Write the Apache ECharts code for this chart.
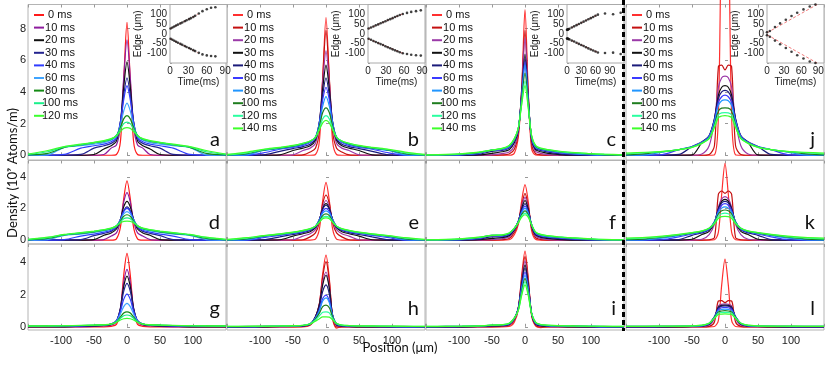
<!DOCTYPE html>
<html>
<head>
<meta charset="utf-8">
<script src="https://cdn.jsdelivr.net/npm/echarts@6/dist/echarts.min.js"></script>
<style>
  html, body { margin: 0; padding: 0; background: #fff; }
  #chart { width: 830px; height: 370px; }
</style>
</head>
<body>
<div id="chart"></div>
<script>
// positions (µm) shared by every density profile
const positions = [-150, -120, -95, -70, -50, -35, -24, -16, -10, -5, 0, 5, 10, 16, 24, 35, 50, 70, 95, 120, 150];

const timesA = ['0 ms', '10 ms', '20 ms', '30 ms', '40 ms', '60 ms', '80 ms', '100 ms', '120 ms'];
const timesB = ['0 ms', '10 ms', '20 ms', '30 ms', '40 ms', '60 ms', '80 ms', '100 ms', '120 ms', '140 ms'];
const colorsA = ['#ff1a1a', '#8e1c9e', '#111111', '#23238f', '#2f3cff', '#3fa4ff', '#138a13', '#19f08a', '#3cff2e'];
const colorsB = ['#ff3030', '#c41010', '#9b3aa8', '#111111', '#1b1b7a', '#3a3aff', '#2196ff', '#1e7d1e', '#2affa0', '#3dff2a'];

// density (1e9 atoms/m), one row per time
const densA = [
  [0,0,0,0,0,0,0,0.05,0.85,4.7,8.4,4.7,0.85,0.05,0,0,0,0,0,0,0],
  [0,0,0,0,0,0.05,0.45,0.65,1.8,4.9,7.3,4.9,1.8,0.65,0.45,0.05,0,0,0,0,0],
  [0,0,0,0,0.05,0.4,0.6,0.9,2.1,4.3,5.9,4.3,2.1,0.9,0.6,0.4,0.05,0,0,0,0],
  [0,0,0,0.05,0.45,0.6,0.75,1.05,2.1,3.8,4.9,3.8,2.1,1.05,0.75,0.6,0.45,0.05,0,0,0],
  [0,0,0.05,0.45,0.6,0.7,0.85,1.1,2.1,3.5,4.4,3.5,2.1,1.1,0.85,0.7,0.6,0.45,0.05,0,0],
  [0,0.03,0.5,0.6,0.7,0.8,0.95,1.2,1.9,2.8,3.3,2.8,1.9,1.2,0.95,0.8,0.7,0.6,0.5,0.03,0],
  [0.02,0.12,0.5,0.65,0.78,0.88,1.0,1.25,1.75,2.3,2.5,2.3,1.75,1.25,1.0,0.88,0.78,0.65,0.5,0.12,0.02],
  [0.05,0.22,0.52,0.67,0.8,0.9,1.02,1.25,1.65,2.0,2.1,2.0,1.65,1.25,1.02,0.9,0.8,0.67,0.52,0.22,0.05],
  [0.08,0.3,0.55,0.7,0.82,0.92,1.05,1.22,1.5,1.7,1.75,1.7,1.5,1.22,1.05,0.92,0.82,0.7,0.55,0.3,0.08]
];
const densB = [
  [0,0,0,0,0,0,0,0.05,0.9,4.8,8.7,4.8,0.9,0.05,0,0,0,0,0,0,0],
  [0,0,0,0,0,0.02,0.2,0.45,1.5,4.9,7.9,4.9,1.5,0.45,0.2,0.02,0,0,0,0,0],
  [0,0,0,0,0.03,0.3,0.45,0.75,2.0,4.6,6.6,4.6,2.0,0.75,0.45,0.3,0.03,0,0,0,0],
  [0,0,0,0.03,0.3,0.45,0.6,0.95,2.1,4.2,5.7,4.2,2.1,0.95,0.6,0.45,0.3,0.03,0,0,0],
  [0,0,0.02,0.25,0.42,0.55,0.7,1.05,2.1,3.8,4.9,3.8,2.1,1.05,0.7,0.55,0.42,0.25,0.02,0,0],
  [0,0,0.15,0.38,0.5,0.62,0.8,1.1,2.1,3.5,4.3,3.5,2.1,1.1,0.8,0.62,0.5,0.38,0.15,0,0],
  [0,0.03,0.3,0.42,0.55,0.68,0.85,1.15,2.0,3.1,3.7,3.1,2.0,1.15,0.85,0.68,0.55,0.42,0.3,0.03,0],
  [0.01,0.1,0.33,0.45,0.58,0.72,0.88,1.15,1.85,2.7,3.0,2.7,1.85,1.15,0.88,0.72,0.58,0.45,0.33,0.1,0.01],
  [0.03,0.15,0.35,0.48,0.6,0.75,0.9,1.15,1.7,2.3,2.5,2.3,1.7,1.15,0.9,0.75,0.6,0.48,0.35,0.15,0.03],
  [0.05,0.2,0.37,0.5,0.62,0.76,0.9,1.12,1.6,2.05,2.2,2.05,1.6,1.12,0.9,0.76,0.62,0.5,0.37,0.2,0.05]
];
const densC = [
  [0,0,0,0,0,0,0,0.15,1.2,4.2,9.2,3.9,0.4,0.02,0,0,0,0,0,0,0],
  [0,0,0,0,0,0.02,0.08,0.4,1.4,4.2,7.9,3.8,0.7,0.1,0.03,0,0,0,0,0,0],
  [0,0,0,0,0.02,0.1,0.2,0.6,1.5,4.1,7.4,3.7,0.9,0.25,0.12,0.04,0,0,0,0,0],
  [0,0,0,0.02,0.12,0.22,0.35,0.8,1.6,3.9,6.4,3.5,1.0,0.35,0.22,0.12,0.05,0,0,0,0],
  [0,0,0.01,0.06,0.25,0.3,0.45,0.9,1.65,3.8,6.1,3.4,1.05,0.42,0.3,0.2,0.1,0.03,0,0,0],
  [0,0.01,0.03,0.12,0.32,0.35,0.5,0.95,1.7,3.7,5.9,3.35,1.1,0.48,0.35,0.26,0.16,0.08,0.02,0,0],
  [0.01,0.02,0.05,0.15,0.33,0.38,0.55,1.0,1.72,3.65,5.7,3.3,1.15,0.52,0.38,0.3,0.2,0.12,0.05,0.01,0],
  [0.01,0.03,0.07,0.17,0.33,0.4,0.58,1.02,1.75,3.5,5.2,3.2,1.2,0.56,0.4,0.32,0.23,0.15,0.08,0.03,0.01],
  [0.02,0.04,0.09,0.19,0.33,0.42,0.6,1.05,1.75,3.3,4.7,3.05,1.22,0.6,0.43,0.34,0.25,0.17,0.1,0.05,0.02],
  [0.03,0.05,0.1,0.2,0.33,0.43,0.62,1.07,1.75,3.2,4.4,2.95,1.25,0.62,0.45,0.36,0.27,0.19,0.12,0.07,0.03]
];
const densJ = [
  [0,0,0,0,0,0,0,0.02,2.5,16,22,16,2.5,0.02,0,0,0,0,0,0,0],
  [0,0,0,0,0,0,0.05,0.6,5.6,5.7,5.4,5.7,5.6,0.6,0.05,0,0,0,0,0,0],
  [0,0,0,0,0,0.08,0.6,2.2,4.3,4.9,5.0,4.9,4.3,2.2,0.6,0.08,0,0,0,0,0],
  [0,0,0,0,0.02,0.8,1.2,2.3,3.8,4.3,4.4,4.3,3.8,2.3,1.2,0.8,0.02,0,0,0,0],
  [0,0,0,0.05,0.55,0.85,1.25,2.3,3.6,4.0,4.1,4.0,3.6,2.3,1.25,0.85,0.55,0.05,0,0,0],
  [0,0,0.04,0.35,0.55,0.82,1.2,2.2,3.35,3.7,3.8,3.7,3.35,2.2,1.2,0.82,0.55,0.35,0.04,0,0],
  [0,0.03,0.2,0.36,0.53,0.8,1.15,2.1,3.15,3.45,3.5,3.45,3.15,2.1,1.15,0.8,0.53,0.36,0.2,0.03,0],
  [0.02,0.1,0.22,0.36,0.52,0.78,1.1,1.95,2.8,2.98,3.0,2.98,2.8,1.95,1.1,0.78,0.52,0.36,0.22,0.1,0.02],
  [0.08,0.17,0.23,0.36,0.5,0.76,1.08,1.85,2.55,2.68,2.7,2.68,2.55,1.85,1.08,0.76,0.5,0.36,0.23,0.17,0.08],
  [0.13,0.19,0.24,0.36,0.5,0.75,1.05,1.75,2.38,2.48,2.5,2.48,2.38,1.75,1.05,0.75,0.5,0.36,0.24,0.19,0.13]
];
const densD = [
  [0,0,0,0,0,0,0,0.08,0.8,2.6,3.75,2.6,0.8,0.08,0,0,0,0,0,0,0],
  [0,0,0,0,0,0.03,0.25,0.45,1.2,2.4,3.0,2.4,1.2,0.45,0.25,0.03,0,0,0,0,0],
  [0,0,0,0,0.03,0.3,0.45,0.7,1.3,2.1,2.45,2.1,1.3,0.7,0.45,0.3,0.03,0,0,0,0],
  [0,0,0,0.03,0.28,0.42,0.55,0.8,1.3,1.85,2.1,1.85,1.3,0.8,0.55,0.42,0.28,0.03,0,0,0],
  [0,0,0.03,0.25,0.38,0.5,0.62,0.85,1.3,1.8,2.0,1.8,1.3,0.85,0.62,0.5,0.38,0.25,0.03,0,0],
  [0,0.03,0.3,0.38,0.48,0.58,0.68,0.88,1.25,1.65,1.8,1.65,1.25,0.88,0.68,0.58,0.48,0.38,0.3,0.03,0],
  [0.01,0.1,0.32,0.42,0.52,0.62,0.72,0.9,1.2,1.5,1.6,1.5,1.2,0.9,0.72,0.62,0.52,0.42,0.32,0.1,0.01],
  [0.03,0.15,0.34,0.45,0.55,0.64,0.74,0.9,1.15,1.35,1.4,1.35,1.15,0.9,0.74,0.64,0.55,0.45,0.34,0.15,0.03],
  [0.05,0.18,0.36,0.47,0.57,0.66,0.75,0.88,1.08,1.18,1.2,1.18,1.08,0.88,0.75,0.66,0.57,0.47,0.36,0.18,0.05]
];
const densE = [
  [0,0,0,0,0,0,0,0.06,0.7,2.5,3.65,2.5,0.7,0.06,0,0,0,0,0,0,0],
  [0,0,0,0,0,0.02,0.2,0.45,1.1,2.3,2.85,2.3,1.1,0.45,0.2,0.02,0,0,0,0,0],
  [0,0,0,0,0.02,0.25,0.4,0.65,1.25,2.1,2.5,2.1,1.25,0.65,0.4,0.25,0.02,0,0,0,0],
  [0,0,0,0.02,0.25,0.4,0.52,0.78,1.3,2.0,2.3,2.0,1.3,0.78,0.52,0.4,0.25,0.02,0,0,0],
  [0,0,0.02,0.2,0.35,0.47,0.6,0.82,1.3,1.95,2.2,1.95,1.3,0.82,0.6,0.47,0.35,0.2,0.02,0,0],
  [0,0,0.15,0.3,0.42,0.52,0.65,0.86,1.3,1.8,2.0,1.8,1.3,0.86,0.65,0.52,0.42,0.3,0.15,0,0],
  [0,0.03,0.22,0.34,0.45,0.56,0.68,0.88,1.27,1.7,1.85,1.7,1.27,0.88,0.68,0.56,0.45,0.34,0.22,0.03,0],
  [0.01,0.08,0.25,0.36,0.47,0.58,0.7,0.88,1.2,1.55,1.65,1.55,1.2,0.88,0.7,0.58,0.47,0.36,0.25,0.08,0.01],
  [0.02,0.12,0.27,0.38,0.49,0.6,0.71,0.88,1.15,1.43,1.5,1.43,1.15,0.88,0.71,0.6,0.49,0.38,0.27,0.12,0.02],
  [0.04,0.15,0.28,0.39,0.5,0.61,0.72,0.87,1.12,1.35,1.4,1.35,1.12,0.87,0.72,0.61,0.5,0.39,0.28,0.15,0.04]
];
const densF = [
  [0,0,0,0,0,0,0.02,0.35,1.0,2.5,3.5,2.4,0.6,0.05,0,0,0,0,0,0,0],
  [0,0,0,0,0,0.02,0.1,0.5,1.1,2.2,2.95,2.1,0.75,0.15,0.03,0,0,0,0,0,0],
  [0,0,0,0,0.02,0.08,0.2,0.6,1.15,2.1,2.7,2.0,0.85,0.25,0.1,0.03,0,0,0,0,0],
  [0,0,0,0.02,0.1,0.15,0.28,0.65,1.2,2.0,2.5,1.95,0.9,0.32,0.17,0.1,0.04,0,0,0,0],
  [0,0,0,0.05,0.2,0.2,0.33,0.7,1.2,1.9,2.3,1.85,0.95,0.38,0.22,0.15,0.09,0.03,0,0,0],
  [0,0,0.02,0.1,0.28,0.25,0.37,0.72,1.2,1.8,2.15,1.75,0.97,0.42,0.26,0.19,0.13,0.07,0.02,0,0],
  [0,0.01,0.04,0.13,0.3,0.28,0.4,0.74,1.18,1.72,2.0,1.68,0.98,0.45,0.29,0.22,0.16,0.1,0.04,0.01,0],
  [0,0.02,0.06,0.15,0.3,0.3,0.42,0.75,1.15,1.62,1.85,1.6,0.98,0.48,0.32,0.24,0.18,0.12,0.06,0.02,0],
  [0.01,0.03,0.08,0.17,0.3,0.32,0.44,0.76,1.12,1.52,1.7,1.5,0.97,0.5,0.34,0.26,0.2,0.14,0.08,0.03,0.01],
  [0.02,0.04,0.09,0.18,0.3,0.33,0.45,0.76,1.1,1.45,1.6,1.43,0.95,0.52,0.36,0.28,0.21,0.15,0.09,0.04,0.02]
];
const densK = [
  [0,0,0,0,0,0,0,0.02,0.5,2.9,4.85,2.9,0.5,0.02,0,0,0,0,0,0,0],
  [0,0,0,0,0,0,0.02,0.15,2.9,3.1,2.95,3.1,2.9,0.15,0.02,0,0,0,0,0,0],
  [0,0,0,0,0,0.05,0.35,1.0,2.1,2.6,2.75,2.6,2.1,1.0,0.35,0.05,0,0,0,0,0],
  [0,0,0,0,0.05,0.35,0.55,1.1,2.0,2.45,2.57,2.45,2.0,1.1,0.55,0.35,0.05,0,0,0,0],
  [0,0,0,0.03,0.3,0.45,0.65,1.15,1.95,2.35,2.45,2.35,1.95,1.15,0.65,0.45,0.3,0.03,0,0,0],
  [0,0,0.02,0.2,0.38,0.5,0.7,1.15,1.85,2.2,2.3,2.2,1.85,1.15,0.7,0.5,0.38,0.2,0.02,0,0],
  [0,0.02,0.12,0.28,0.42,0.53,0.72,1.15,1.75,2.02,2.1,2.02,1.75,1.15,0.72,0.53,0.42,0.28,0.12,0.02,0],
  [0.03,0.08,0.18,0.32,0.44,0.55,0.74,1.12,1.65,1.85,1.9,1.85,1.65,1.12,0.74,0.55,0.44,0.32,0.18,0.08,0.03],
  [0.08,0.14,0.22,0.34,0.46,0.57,0.75,1.08,1.52,1.66,1.7,1.66,1.52,1.08,0.75,0.57,0.46,0.34,0.22,0.14,0.08],
  [0.12,0.17,0.25,0.36,0.47,0.58,0.75,1.02,1.38,1.48,1.5,1.48,1.38,1.02,0.75,0.58,0.47,0.36,0.25,0.17,0.12]
];
const densG = [
  [0,0,0,0,0,0,0.03,0.15,1.0,3.2,4.56,3.2,1.0,0.15,0.03,0,0,0,0,0,0],
  [0,0,0,0,0.02,0.05,0.1,0.3,1.15,2.75,3.56,2.75,1.15,0.3,0.1,0.05,0.02,0,0,0,0],
  [0,0,0,0.03,0.05,0.08,0.15,0.35,1.15,2.5,3.15,2.5,1.15,0.35,0.15,0.08,0.05,0.03,0,0,0],
  [0.02,0.02,0.03,0.05,0.07,0.1,0.17,0.38,1.1,2.2,2.7,2.2,1.1,0.38,0.17,0.1,0.07,0.05,0.03,0.02,0.02],
  [0.02,0.03,0.04,0.06,0.08,0.11,0.17,0.38,0.95,1.7,2.03,1.7,0.95,0.38,0.17,0.11,0.08,0.06,0.04,0.03,0.02],
  [0.03,0.04,0.05,0.07,0.09,0.12,0.17,0.35,0.8,1.25,1.45,1.25,0.8,0.35,0.17,0.12,0.09,0.07,0.05,0.04,0.03],
  [0.04,0.05,0.06,0.08,0.1,0.12,0.17,0.32,0.6,0.85,0.93,0.85,0.6,0.32,0.17,0.12,0.1,0.08,0.06,0.05,0.04],
  [0.04,0.05,0.07,0.08,0.1,0.12,0.17,0.3,0.52,0.68,0.73,0.68,0.52,0.3,0.17,0.12,0.1,0.08,0.07,0.05,0.04],
  [0.05,0.06,0.07,0.09,0.1,0.13,0.17,0.28,0.42,0.5,0.52,0.5,0.42,0.28,0.17,0.13,0.1,0.09,0.07,0.06,0.05]
];
const densH = [
  [0,0,0,0,0,0,0.1,0.55,1.4,3.3,4.45,3.0,0.5,-0.08,0,0,0,0,0,0,0],
  [0,0,0,0,0,0.02,0.12,0.6,1.45,3.1,4.04,2.85,0.6,0,0,0,0,0,0,0,0],
  [0,0,0,0,0.02,0.04,0.14,0.62,1.4,2.75,3.4,2.5,0.68,0.08,0.02,0,0,0,0,0,0],
  [0,0,0,0.02,0.03,0.05,0.15,0.62,1.38,2.6,3.2,2.4,0.72,0.12,0.04,0.02,0,0,0,0,0],
  [0,0,0.01,0.03,0.04,0.06,0.16,0.6,1.25,2.2,2.6,2.05,0.72,0.15,0.06,0.03,0.02,0.01,0,0,0],
  [0,0.01,0.02,0.03,0.05,0.07,0.17,0.55,1.05,1.75,1.97,1.62,0.7,0.17,0.07,0.04,0.03,0.02,0.01,0,0],
  [0.01,0.01,0.02,0.04,0.05,0.08,0.18,0.53,1.0,1.6,1.8,1.5,0.68,0.18,0.08,0.05,0.03,0.02,0.02,0.01,0.01],
  [0.01,0.02,0.03,0.04,0.06,0.08,0.18,0.48,0.85,1.25,1.35,1.18,0.62,0.2,0.09,0.06,0.04,0.03,0.02,0.02,0.01],
  [0.02,0.02,0.03,0.05,0.06,0.09,0.18,0.42,0.68,0.9,0.93,0.86,0.53,0.2,0.1,0.07,0.05,0.04,0.03,0.02,0.02],
  [0.02,0.03,0.04,0.05,0.07,0.09,0.17,0.35,0.5,0.62,0.62,0.6,0.43,0.2,0.11,0.08,0.06,0.05,0.04,0.03,0.02]
];
const densI = [
  [0,0,0,0,0,0,0.02,0.3,1.1,3.2,4.7,3.0,0.7,0.05,-0.05,0,0,0,0,0,0],
  [0,0,0,0,0,0.02,0.08,0.4,1.2,3.0,4.35,2.85,0.75,0.1,0,0,0,0,0,0,0],
  [0,0,0,0,0.02,0.05,0.12,0.45,1.2,2.85,4.1,2.7,0.8,0.15,0.04,0.02,0,0,0,0,0],
  [0,0,0,0.02,0.05,0.07,0.15,0.5,1.2,2.7,3.85,2.6,0.82,0.18,0.06,0.03,0.02,0,0,0,0],
  [0,0,0,0.03,0.07,0.08,0.17,0.52,1.18,2.6,3.65,2.5,0.83,0.2,0.08,0.05,0.03,0.02,0,0,0],
  [0,0.01,0.02,0.04,0.08,0.1,0.18,0.53,1.15,2.45,3.4,2.38,0.84,0.22,0.1,0.06,0.04,0.03,0.02,0,0],
  [0.01,0.02,0.03,0.05,0.09,0.11,0.19,0.54,1.12,2.35,3.2,2.28,0.85,0.24,0.11,0.07,0.05,0.04,0.03,0.01,0.01],
  [0.01,0.02,0.03,0.05,0.1,0.12,0.2,0.55,1.1,2.2,3.0,2.15,0.85,0.26,0.12,0.08,0.06,0.05,0.03,0.02,0.01],
  [0.02,0.03,0.04,0.06,0.1,0.13,0.21,0.55,1.05,2.05,2.8,2.02,0.84,0.28,0.13,0.09,0.07,0.05,0.04,0.03,0.02],
  [0.02,0.03,0.04,0.06,0.1,0.13,0.22,0.55,1.02,1.95,2.6,1.92,0.82,0.29,0.14,0.1,0.07,0.06,0.04,0.03,0.02]
];
const densL = [
  [0,0,0,0,0,0,0,0.02,0.4,2.6,4.2,2.6,0.4,0.02,0,0,0,0,0,0,0],
  [0,0,0,0,0,0,0.03,0.3,1.6,1.62,1.5,1.62,1.6,0.3,0.03,0,0,0,0,0,0],
  [0,0,0,0,0,0.02,0.1,0.5,1.3,1.4,1.42,1.4,1.3,0.5,0.1,0.02,0,0,0,0,0],
  [0,0,0,0,0.02,0.04,0.15,0.6,1.22,1.33,1.35,1.33,1.22,0.6,0.15,0.04,0.02,0,0,0,0],
  [0,0,0,0.02,0.03,0.05,0.18,0.62,1.17,1.28,1.3,1.28,1.17,0.62,0.18,0.05,0.03,0.02,0,0,0],
  [0.01,0.01,0.02,0.02,0.03,0.06,0.2,0.62,1.08,1.18,1.2,1.18,1.08,0.62,0.2,0.06,0.03,0.02,0.02,0.01,0.01],
  [0.02,0.02,0.02,0.03,0.04,0.07,0.21,0.6,1.0,1.08,1.1,1.08,1.0,0.6,0.21,0.07,0.04,0.03,0.02,0.02,0.02],
  [0.02,0.02,0.03,0.03,0.05,0.08,0.22,0.58,0.92,0.98,1.0,0.98,0.92,0.58,0.22,0.08,0.05,0.03,0.03,0.02,0.02],
  [0.03,0.03,0.03,0.04,0.05,0.09,0.22,0.55,0.84,0.89,0.9,0.89,0.84,0.55,0.22,0.09,0.05,0.04,0.03,0.03,0.03],
  [0.03,0.03,0.04,0.04,0.06,0.1,0.22,0.52,0.76,0.79,0.8,0.79,0.76,0.52,0.22,0.1,0.06,0.04,0.04,0.03,0.03]
];

// inset data: cloud edge (µm) vs time (ms)
const edgeA_t = [1, 4, 7, 10, 13, 17, 20, 24, 27, 31, 34, 38, 41, 47, 53, 60, 67, 74];
const edgeA_up = [27, 32, 37, 42, 47, 53, 58, 64, 69, 75, 80, 86, 92, 104, 116, 126, 133, 136];
const edgeA_down = [-26, -31, -36, -41, -46, -52, -57, -63, -68, -73, -78, -84, -89, -98, -106, -111, -114, -116];
const edgeB_t = [1, 5, 9, 13, 17, 21, 25, 29, 33, 37, 41, 45, 49, 53, 58, 65, 72, 80, 88];
const edgeB_up = [27, 32, 37, 43, 48, 54, 59, 64, 70, 75, 80, 86, 91, 96, 101, 107, 112, 116, 120];
const edgeB_down = [-26, -31, -37, -42, -48, -53, -58, -64, -69, -74, -80, -85, -90, -95, -100, -104, -108, -110, -112];
const edgeC_t = [0, 1, 2, 3, 5, 10, 15, 20, 25, 30, 35, 40, 45, 50, 55, 60, 65, 80, 97, 113];
const edgeC_up = [20, 21, 22, 23, 26, 32, 38, 44, 50, 56, 62, 68, 74, 80, 86, 92, 98, 104, 100, 108];
const edgeC_down = [-24, -25, -26, -27, -29, -35, -40, -46, -52, -58, -63, -69, -75, -81, -86, -91, -96, -99, -97, -104];
const edgeJ_t = [0, 5, 14, 23, 33, 43, 53, 64, 75, 85];
const edgeJ_up = [8, 14, 34, 53, 72, 91, 108, 125, 140, 150];
const edgeJ_down = [-8, -15, -35, -54, -73, -92, -110, -127, -142, -150];
// linear fits drawn as red dashes
const fitA_t = [0, 45], fitA_up = [25, 99], fitA_down = [-25, -97];
const fitB_t = [0, 60], fitB_up = [25, 105], fitB_down = [-25, -103];
const fitC_t = [0, 66], fitC_up = [20, 100], fitC_down = [-24, -97];
const fitJ_t = [0, 88], fitJ_up = [5, 150], fitJ_down = [-5, -150];

const panels = [
  { id: 'a', row: 0, col: 0, dens: densA, times: timesA, colors: colorsA, legend: true },
  { id: 'b', row: 0, col: 1, dens: densB, times: timesB, colors: colorsB, legend: true },
  { id: 'c', row: 0, col: 2, dens: densC, times: timesB, colors: colorsB, legend: true },
  { id: 'j', row: 0, col: 3, dens: densJ, times: timesB, colors: colorsB, legend: true, noClip: true },
  { id: 'd', row: 1, col: 0, dens: densD, times: timesA, colors: colorsA },
  { id: 'e', row: 1, col: 1, dens: densE, times: timesB, colors: colorsB },
  { id: 'f', row: 1, col: 2, dens: densF, times: timesB, colors: colorsB },
  { id: 'k', row: 1, col: 3, dens: densK, times: timesB, colors: colorsB },
  { id: 'g', row: 2, col: 0, dens: densG, times: timesA, colors: colorsA },
  { id: 'h', row: 2, col: 1, dens: densH, times: timesB, colors: colorsB },
  { id: 'i', row: 2, col: 2, dens: densI, times: timesB, colors: colorsB },
  { id: 'l', row: 2, col: 3, dens: densL, times: timesB, colors: colorsB }
];

const insets = [
  { left: 170, max: 93, t: edgeA_t, up: edgeA_up, down: edgeA_down, ft: fitA_t, fu: fitA_up, fd: fitA_down },
  { left: 368, max: 95, t: edgeB_t, up: edgeB_up, down: edgeB_down, ft: fitB_t, fu: fitB_up, fd: fitB_down },
  { left: 567, max: 120, t: edgeC_t, up: edgeC_up, down: edgeC_down, ft: fitC_t, fu: fitC_up, fd: fitC_down },
  { left: 767, max: 100, t: edgeJ_t, up: edgeJ_up, down: edgeJ_down, ft: fitJ_t, fu: fitJ_up, fd: fitJ_down }
];

const colLeft = [28, 227, 426, 626];
const colW = 198;
const rows = [
  { top: 4.5, height: 155.5, min: -0.3, max: 9.53, ticks: [0, 2, 4, 6, 8], letterY: 140 },
  { top: 160.5, height: 83.5, min: -0.25, max: 5.03, ticks: [0, 2, 4], letterY: 223 },
  { top: 244, height: 86, min: -0.2, max: 5.14, ticks: [0, 2, 4], letterY: 309 }
];
const letterRight = [220, 419, 616, 815];

const zip = (xs, ys) => xs.map((x, i) => [x, ys[i]]);
const sansFont = '"Liberation Sans", Arial, sans-serif';

const grid = [], xAxis = [], yAxis = [], series = [], legend = [], graphic = [];

panels.forEach((p, gi) => {
  const r = rows[p.row];
  grid.push({ left: colLeft[p.col], top: r.top, width: colW, height: r.height,
    show: true, borderColor: '#b4b4b4', borderWidth: 1 });
  xAxis.push({ type: 'value', gridIndex: gi, min: -150, max: 150, interval: 50,
    axisLine: { show: false }, splitLine: { show: false },
    axisTick: { inside: true, length: 3, lineStyle: { color: '#999' } },
    axisLabel: { show: p.row === 2, fontSize: 11, color: '#222', margin: 5,
      formatter: v => (Math.abs(v) === 150 ? '' : String(v)) } });
  yAxis.push({ type: 'value', gridIndex: gi, min: r.min, max: r.max,
    axisLine: { show: false }, splitLine: { show: false },
    axisTick: { inside: true, length: 3, customValues: r.ticks, lineStyle: { color: '#999' } },
    axisLabel: { show: p.col === 0, customValues: r.ticks, fontSize: 11, color: '#222', margin: 2 } });

  const names = [];
  p.dens.forEach((vals, k) => {
    const name = p.id + '|' + p.times[k];
    names.push(name);
    series.push({ type: 'line', name, xAxisIndex: gi, yAxisIndex: gi,
      data: zip(positions, vals), showSymbol: false, smooth: 0.3,
      clip: !p.noClip, silent: true,
      itemStyle: { color: p.colors[k] },
      lineStyle: { color: p.colors[k], width: 1.2 } });
  });
  if (p.legend) {
    legend.push({ data: names, orient: 'vertical', left: colLeft[p.col] + 6, top: 9, padding: 0,
      icon: 'rect', itemWidth: 10, itemHeight: 2, itemGap: 0.6, selectedMode: false,
      formatter: n => '{c|' + n.split('|')[1] + '}',
      textStyle: { fontSize: 11, color: '#111', lineHeight: 12,
        rich: { c: { width: 22, align: 'center', fontSize: 11, lineHeight: 12, fontFamily: sansFont } } } });
  }
  graphic.push({ type: 'text', x: letterRight[p.col], y: r.letterY, z: 50,
    style: { text: p.id, fontSize: 20, fontFamily: 'Lato, sans-serif', fill: '#111',
      align: 'right', verticalAlign: 'middle' } });
});

insets.forEach((s, n) => {
  const gi = panels.length + n;
  grid.push({ left: s.left, top: 4.5, width: 57, height: 58.5, show: true,
    backgroundColor: '#fff', borderColor: '#aaa', borderWidth: 1, z: 5 });
  xAxis.push({ type: 'value', gridIndex: gi, min: 0, max: s.max, interval: 30,
    axisLine: { show: false }, splitLine: { show: false },
    axisTick: { inside: true, length: 2, lineStyle: { color: '#999' } },
    axisLabel: { fontSize: 10, color: '#222', margin: 3, showMaxLabel: false,
      formatter: v => (v % 30 === 0 ? String(v) : '') },
    name: 'Time(ms)', nameLocation: 'middle', nameGap: 14,
    nameTextStyle: { fontSize: 10, color: '#222' } });
  yAxis.push({ type: 'value', gridIndex: gi, min: -150, max: 150, interval: 50,
    axisLine: { show: false }, splitLine: { show: false },
    axisTick: { inside: true, length: 2, lineStyle: { color: '#999' } },
    axisLabel: { fontSize: 10, color: '#222', margin: 3,
      formatter: v => (Math.abs(v) > 120 ? '' : String(v)) },
    name: 'Edge (\u03bcm)', nameLocation: 'middle', nameGap: 22,
    nameTextStyle: { fontSize: 10, color: '#222' } });
  [s.fu, s.fd].forEach(ys => series.push({ type: 'line', xAxisIndex: gi, yAxisIndex: gi,
    data: zip(s.ft, ys), showSymbol: false, silent: true, z: 6,
    lineStyle: { color: '#f07a7a', width: 1, type: [3, 2] } }));
  [s.up, s.down].forEach(ys => series.push({ type: 'scatter', xAxisIndex: gi, yAxisIndex: gi,
    data: zip(s.t, ys), symbolSize: 2.6, silent: true, z: 7,
    itemStyle: { color: '#111' } }));
});

// tick marks along the top edge of each density panel
panels.forEach((p, gi) => {
  xAxis.push({ type: 'value', gridIndex: gi, position: 'top', min: -150, max: 150, interval: 50,
    axisLine: { show: false }, splitLine: { show: false }, axisLabel: { show: false },
    axisTick: { inside: true, length: 3, lineStyle: { color: '#999' } } });
});

graphic.push(
  { type: 'line', z: 60, shape: { x1: 623.5, y1: 0, x2: 623.5, y2: 331 },
    style: { stroke: '#000', lineWidth: 3, lineDash: [5, 3] } },
  { type: 'text', x: 400, y: 348, z: 50,
    style: { text: 'Position (\u03bcm)', fontSize: 13, fontFamily: 'Lato, sans-serif', fill: '#111',
      align: 'center', verticalAlign: 'middle' } },
  { type: 'text', x: 13, y: 173, rotation: Math.PI / 2, z: 50,
    style: { text: 'Density (10\u2079 Atoms/m)', fontSize: 13, fontFamily: 'Lato, sans-serif', fill: '#111',
      align: 'center', verticalAlign: 'middle' } }
);

const chart = echarts.init(document.getElementById('chart'));
chart.setOption({
  animation: false,
  backgroundColor: '#fff',
  textStyle: { fontFamily: sansFont },
  grid, xAxis, yAxis, legend, series, graphic
});
</script>
</body>
</html>
